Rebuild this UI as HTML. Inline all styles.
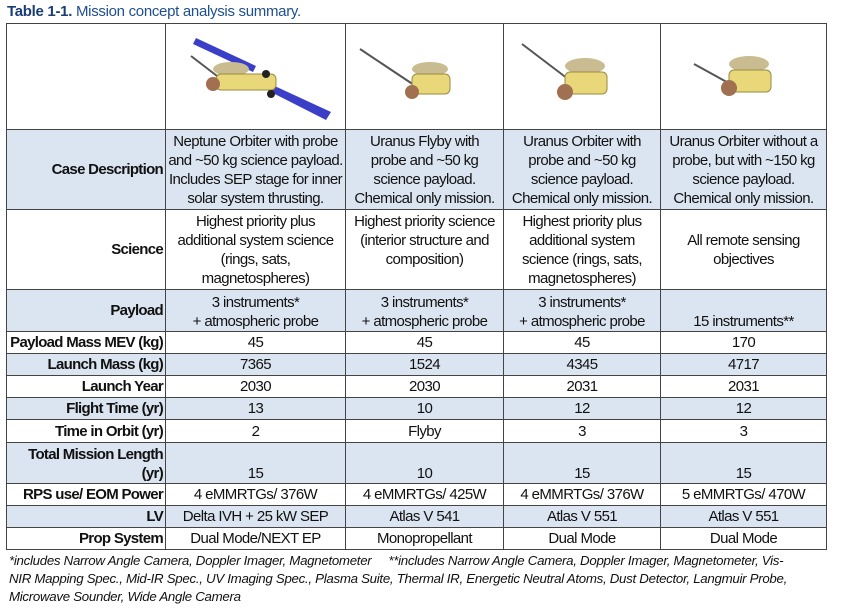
<!DOCTYPE html>
<html><head><meta charset="utf-8"><style>
body{margin:0;width:842px;height:614px;background:#fff;font-family:"Liberation Sans",Arial,sans-serif;position:relative;overflow:hidden;color:#111}
.title{position:absolute;left:7px;top:3px;font-size:15px;color:#1f4f8f;letter-spacing:-0.3px}
.title b{color:#1a3d73}
table{position:absolute;left:6px;top:23px;width:820px;border-collapse:collapse;table-layout:fixed}
td{border:1.5px solid #444;padding:0 1px;font-size:15px;line-height:19px;text-align:center;letter-spacing:-0.6px;overflow:hidden;white-space:nowrap;color:#111}
td.l{text-align:right;font-weight:bold;padding-right:2px;letter-spacing:-0.7px}
tr.b td{background:#dbe5f1}
.bt td{vertical-align:bottom}
.foot{position:absolute;left:9px;top:552px;font-size:13.3px;font-style:italic;line-height:18px;letter-spacing:-0.3px;width:830px}
</style></head><body>
<div class="title"><b>Table 1-1.</b> Mission concept analysis summary.</div>
<table>
<colgroup><col style="width:159px"><col style="width:180px"><col style="width:158px"><col style="width:157px"><col style="width:166px"></colgroup>
<tr style="height:106px"><td></td>
<td><svg width="170" height="100"><polygon points="25,14 85,42 82,48 22,20" fill="#3b3fc8"/><polygon points="95,58 160,88 155,96 92,64" fill="#3b3fc8"/><line x1="20" y1="32" x2="50" y2="55" stroke="#555" stroke-width="2"/><ellipse cx="60" cy="45" rx="18" ry="7" fill="#c9bc90"/><rect x="45" y="50" width="60" height="16" rx="5" fill="#e8d87a" stroke="#9a8a40"/><circle cx="42" cy="60" r="7" fill="#a07050"/><circle cx="95" cy="50" r="4" fill="#222"/><circle cx="100" cy="70" r="4" fill="#222"/></svg></td>
<td><svg width="150" height="100"><line x1="10" y1="25" x2="70" y2="65" stroke="#555" stroke-width="2"/><ellipse cx="80" cy="45" rx="18" ry="7" fill="#c9bc90"/><rect x="62" y="50" width="38" height="20" rx="5" fill="#e8d87a" stroke="#9a8a40"/><circle cx="62" cy="68" r="7" fill="#a07050"/></svg></td>
<td><svg width="150" height="100"><line x1="15" y1="20" x2="65" y2="58" stroke="#555" stroke-width="2"/><ellipse cx="78" cy="42" rx="20" ry="8" fill="#c9bc90"/><rect x="58" y="48" width="42" height="22" rx="5" fill="#e8d87a" stroke="#9a8a40"/><circle cx="58" cy="68" r="8" fill="#a07050"/></svg></td>
<td><svg width="160" height="100"><line x1="30" y1="40" x2="70" y2="62" stroke="#555" stroke-width="2"/><ellipse cx="85" cy="40" rx="20" ry="8" fill="#c9bc90"/><rect x="65" y="46" width="42" height="22" rx="5" fill="#e8d87a" stroke="#9a8a40"/><circle cx="65" cy="64" r="8" fill="#a07050"/></svg></td></tr>
<tr class="b" style="height:80px"><td class="l">Case Description</td><td>Neptune Orbiter with probe<br>and ~50 kg science payload.<br>Includes SEP stage for inner<br>solar system thrusting.</td><td>Uranus Flyby with<br>probe and ~50 kg<br>science payload.<br>Chemical only mission.</td><td>Uranus Orbiter with<br>probe and ~50 kg<br>science payload.<br>Chemical only mission.</td><td>Uranus Orbiter without a<br>probe, but with ~150 kg<br>science payload.<br>Chemical only mission.</td></tr>
<tr style="height:80px"><td class="l">Science</td><td>Highest priority plus<br>additional system science<br>(rings, sats,<br>magnetospheres)</td><td>Highest priority science<br>(interior structure and<br>composition)<br>&nbsp;</td><td>Highest priority plus<br>additional system<br>science (rings, sats,<br>magnetospheres)</td><td>All remote sensing<br>objectives</td></tr>
<tr class="b" style="height:42px"><td class="l">Payload</td><td style="vertical-align:bottom">3 instruments*<br>+ atmospheric probe</td><td style="vertical-align:bottom">3 instruments*<br>+ atmospheric probe</td><td style="vertical-align:bottom">3 instruments*<br>+ atmospheric probe</td><td style="vertical-align:bottom">15 instruments**</td></tr>
<tr style="height:22px"><td class="l">Payload Mass MEV (kg)</td><td>45</td><td>45</td><td>45</td><td>170</td></tr>
<tr class="b" style="height:22px"><td class="l">Launch Mass (kg)</td><td>7365</td><td>1524</td><td>4345</td><td>4717</td></tr>
<tr style="height:22px"><td class="l">Launch Year</td><td>2030</td><td>2030</td><td>2031</td><td>2031</td></tr>
<tr class="b" style="height:22px"><td class="l">Flight Time (yr)</td><td>13</td><td>10</td><td>12</td><td>12</td></tr>
<tr style="height:23px"><td class="l">Time in Orbit (yr)</td><td>2</td><td>Flyby</td><td>3</td><td>3</td></tr>
<tr class="b bt" style="height:41px"><td class="l">Total Mission Length<br>(yr)</td><td>15</td><td>10</td><td>15</td><td>15</td></tr>
<tr style="height:22px"><td class="l">RPS use/ EOM Power</td><td>4 eMMRTGs/ 376W</td><td>4 eMMRTGs/ 425W</td><td>4 eMMRTGs/ 376W</td><td>5 eMMRTGs/ 470W</td></tr>
<tr class="b" style="height:22px"><td class="l">LV</td><td>Delta IVH + 25 kW SEP</td><td>Atlas V 541</td><td>Atlas V 551</td><td>Atlas V 551</td></tr>
<tr style="height:22px"><td class="l">Prop System</td><td>Dual Mode/NEXT EP</td><td>Monopropellant</td><td>Dual Mode</td><td>Dual Mode</td></tr>
</table>
<div class="foot">*includes Narrow Angle Camera, Doppler Imager, Magnetometer&nbsp;&nbsp;&nbsp;&nbsp;&nbsp;**includes Narrow Angle Camera, Doppler Imager, Magnetometer, Vis-<br>NIR Mapping Spec., Mid-IR Spec., UV Imaging Spec., Plasma Suite, Thermal IR, Energetic Neutral Atoms, Dust Detector, Langmuir Probe,<br>Microwave Sounder, Wide Angle Camera</div>
</body></html>
